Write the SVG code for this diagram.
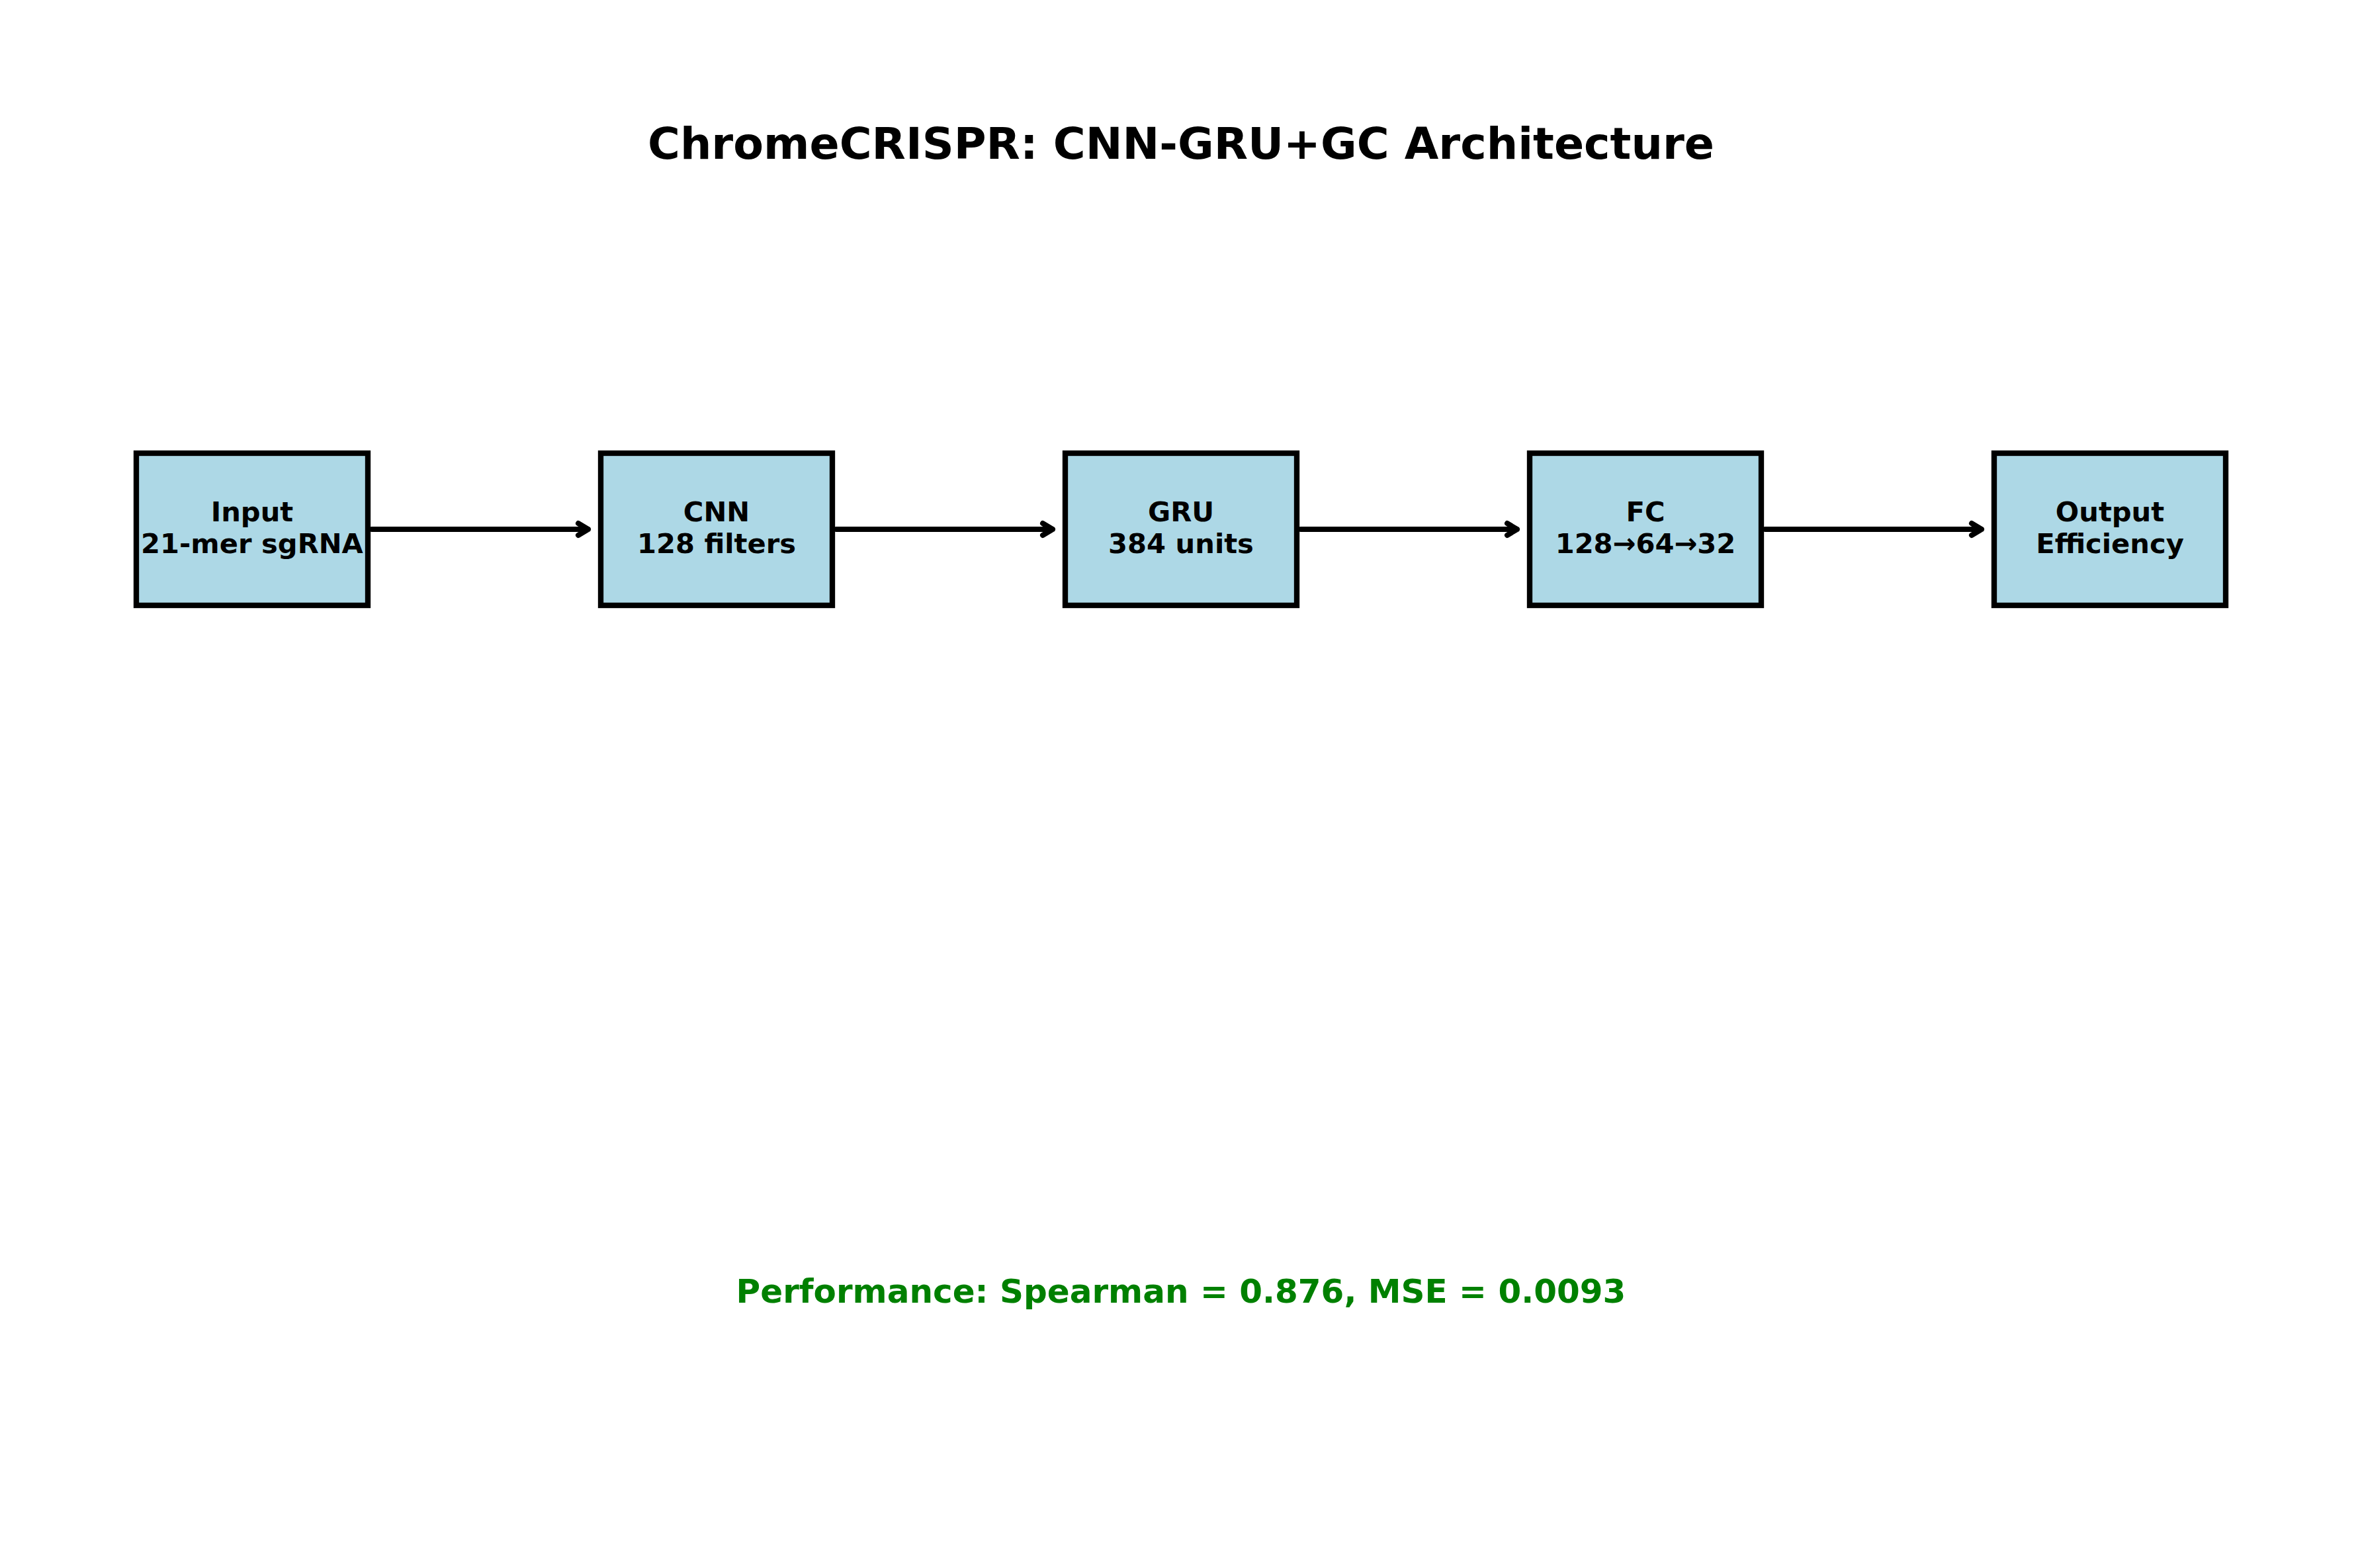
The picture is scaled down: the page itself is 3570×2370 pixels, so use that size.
<svg xmlns="http://www.w3.org/2000/svg" width="3570" height="2370" viewBox="0 0 3570 2370">
<style>
.box{fill:#ADD8E6;stroke:#000;stroke-width:8.33}
.lbl{font-family:"DejaVu Sans",sans-serif;font-weight:bold;font-size:41.67px;text-anchor:middle;fill:#000}
.title{font-family:"DejaVu Sans",sans-serif;font-weight:bold;font-size:66.67px;text-anchor:middle;fill:#000}
.perf{font-family:"DejaVu Sans",sans-serif;font-weight:bold;font-size:50px;text-anchor:middle;fill:#008000}
.conn{fill:none;stroke:#000;stroke-width:8;stroke-linecap:round;stroke-linejoin:round}
</style>
<rect width="3570" height="2370" fill="#fff"/>
<text class="title" x="1785" y="240">ChromeCRISPR: CNN-GRU+GC Architecture</text>
<g id="connectors">
<path class="conn" d="M562 800 H889 M874 791 L889 800 L874 809"/>
<path class="conn" d="M1264 800 H1591 M1576 791 L1591 800 L1576 809"/>
<path class="conn" d="M1966 800 H2293 M2278 791 L2293 800 L2278 809"/>
<path class="conn" d="M2668 800 H2995 M2980 791 L2995 800 L2980 809"/>
</g>
<g id="node-input">
<rect class="box" x="206" y="685" width="350" height="230"/>
<text class="lbl" x="381" y="788">Input</text>
<text class="lbl" x="381" y="836">21-mer sgRNA</text>
</g>
<g id="node-cnn">
<rect class="box" x="908" y="685" width="350" height="230"/>
<text class="lbl" x="1083" y="788">CNN</text>
<text class="lbl" x="1083" y="836">128 filters</text>
</g>
<g id="node-gru">
<rect class="box" x="1610" y="685" width="350" height="230"/>
<text class="lbl" x="1785" y="788">GRU</text>
<text class="lbl" x="1785" y="836">384 units</text>
</g>
<g id="node-fc">
<rect class="box" x="2312" y="685" width="350" height="230"/>
<text class="lbl" x="2487" y="788">FC</text>
<text class="lbl" x="2487" y="836">128→64→32</text>
</g>
<g id="node-output">
<rect class="box" x="3014" y="685" width="350" height="230"/>
<text class="lbl" x="3189" y="788">Output</text>
<text class="lbl" x="3189" y="836">Efficiency</text>
</g>
<text class="perf" x="1785" y="1969">Performance: Spearman = 0.876, MSE = 0.0093</text>
</svg>
